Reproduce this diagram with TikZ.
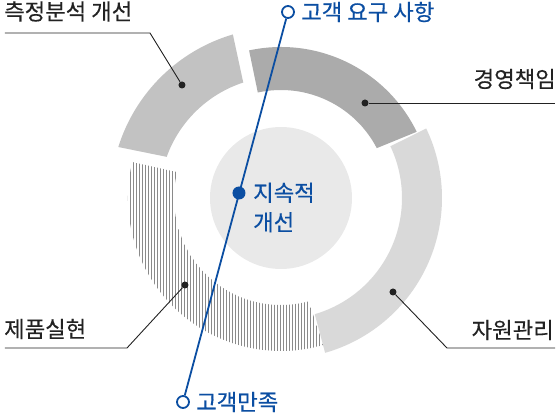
\documentclass[tikz,border=0pt]{standalone}
\usepackage{fontspec}
\setmainfont{Noto Sans CJK KR}[FakeBold=0.4]
\definecolor{segmeasure}{HTML}{C2C2C2}
\definecolor{segmgmt}{HTML}{ABABAB}
\definecolor{segres}{HTML}{D9D9D9}
\definecolor{corefill}{HTML}{E9E9E9}
\definecolor{hatchgray}{HTML}{8A8A8A}
\definecolor{qblue}{HTML}{0B4EA2}
\definecolor{inkdark}{HTML}{222222}

\begin{document}
\begin{tikzpicture}[x=1pt,y=1pt,
  txt/.style={font=\fontsize{22.3}{26}\selectfont, text=inkdark, inner sep=0pt},
  bluetxt/.style={txt, text=qblue},
  leader/.style={draw=inkdark, line width=0.9pt},
  dotmark/.style={circle, fill=inkdark, inner sep=0pt, minimum size=7pt},
  openring/.style={circle, draw=qblue, line width=1.8pt, fill=white, inner sep=0pt, minimum size=12pt},
  coredot/.style={circle, fill=qblue, inner sep=0pt, minimum size=13pt},
]
  \useasboundingbox (-281,-217) rectangle (279,198);

  % Kern
  \fill[corefill] (0,0) circle (71pt);

  % Ring: Produktrealisierung (schraffiert)
  \begin{scope}
    \clip (166.4:153) arc[start angle=166.4, end angle=286, radius=153pt]
      -- (285:107) arc[start angle=285, end angle=166, radius=107pt] -- cycle;
    \foreach \x in {-160,-157,...,60}
      \draw[hatchgray, line width=0.55pt] (\x,-170) -- (\x,60);
  \end{scope}

  % Ring: die drei grauen Segmente
  \fill[segres] (-74.1:161) arc[start angle=-74.1, end angle=25.6, radius=161pt]
    -- (25.3:121) arc[start angle=25.3, end angle=-73.8, radius=121pt] -- cycle;
  \fill[segmgmt] (26:151) arc[start angle=26, end angle=102.2, radius=151pt]
    -- (102.4:108) arc[start angle=102.4, end angle=27.5, radius=108pt] -- cycle;
  \fill[segmeasure] (106.4:170.5) arc[start angle=106.4, end angle=162.6, radius=170.5pt]
    -- (160.2:121.5) arc[start angle=160.2, end angle=108.1, radius=121.5pt] -- cycle;

  % Blaue Achse
  \node[openring] (req) at (7,186) {};
  \node[openring] (sat) at (-98,-204) {};
  \draw[qblue, line width=1.8pt] (req) -- (sat);
  \node[coredot] (core) at (-42,5) {};
  \node[bluetxt, anchor=west] (reqtxt) at ([xshift=13pt]req.center) {고객 요구 사항};
  \node[bluetxt, anchor=west] (sattxt) at ([xshift=13pt]sat.center) {고객만족};
  \node[bluetxt, anchor=west, align=left, font=\fontsize{22.3}{29.5}\selectfont] (coretxt) at (-28,-9.5) {지속적\\개선};

  % Beschriftungen mit Hinweislinien
  \coordinate (measureend) at (-276,165);
  \coordinate (measurebend) at (-131,165);
  \node[dotmark] (measuredot) at (-99,113) {};
  \draw[leader] (measureend) -- (measurebend) -- (measuredot);
  \node[txt, anchor=west] (measuretxt) at (-277,186.5) {측정분석 개선};

  \coordinate (mgmtend) at (274,95);
  \node[dotmark] (mgmtdot) at (84,95) {};
  \draw[leader] (mgmtdot) -- (mgmtend);
  \node[txt, anchor=east] (mgmttxt) at (275,119) {경영책임};

  \coordinate (resbend) at (166,-150);
  \coordinate (resend) at (274,-150);
  \node[dotmark] (resdot) at (112,-94) {};
  \draw[leader] (resdot) -- (resbend) -- (resend);
  \node[txt, anchor=east] (restxt) at (273,-132) {자원관리};

  \coordinate (prodbend) at (-154,-150);
  \coordinate (prodend) at (-276,-150);
  \node[dotmark] (proddot) at (-96,-87) {};
  \draw[leader] (proddot) -- (prodbend) -- (prodend);
  \node[txt, anchor=west] (prodtxt) at (-277,-131) {제품실현};
\end{tikzpicture}
\end{document}
